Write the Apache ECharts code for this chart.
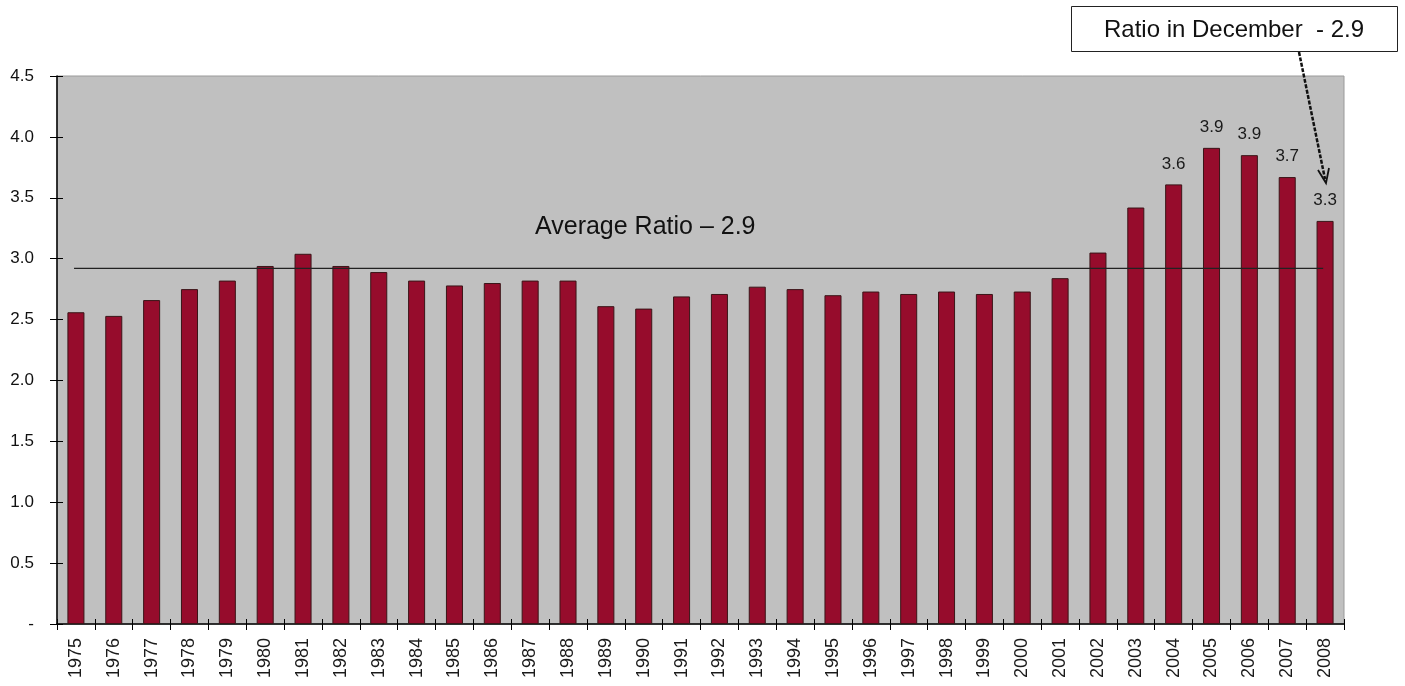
<!DOCTYPE html>
<html>
<head>
<meta charset="utf-8">
<script src="https://cdn.jsdelivr.net/npm/echarts@6/dist/echarts.min.js"></script>
<style>
html,body{margin:0;padding:0;background:#fff;}
#chart{width:1405px;height:686px;}
</style>
</head>
<body>
<div id="chart"></div>
<script>
const years = ['1975','1976','1977','1978','1979','1980','1981','1982','1983','1984','1985','1986','1987','1988','1989','1990','1991','1992','1993','1994','1995','1996','1997','1998','1999','2000','2001','2002','2003','2004','2005','2006','2007','2008'];
const ratios = [2.56,2.53,2.66,2.75,2.82,2.94,3.04,2.94,2.89,2.82,2.78,2.80,2.82,2.82,2.61,2.59,2.69,2.71,2.77,2.75,2.70,2.73,2.71,2.73,2.71,2.73,2.84,3.05,3.42,3.61,3.91,3.85,3.67,3.31];
const labelledYears = ['2004','2005','2006','2007','2008'];
const averageRatio = 2.92;
const averageSpan = [-0.05, 32.95];
const yTicks = ['-','0.5','1.0','1.5','2.0','2.5','3.0','3.5','4.0','4.5'];
const averageText = 'Average Ratio – 2.9';
const decemberText = 'Ratio in December  - 2.9';

const chart = echarts.init(document.getElementById('chart'));
const font = 'Liberation Sans, Arial, sans-serif';

chart.setOption({
  animation: false,
  grid: {left: 57, right: 61, top: 76, bottom: 62, show: true, backgroundColor: '#C0C0C0', borderColor: '#9a9a9a', borderWidth: 1},
  xAxis: [{
    type: 'category', data: years,
    axisLine: {lineStyle: {color: '#000', width: 1.5}},
    axisTick: {show: true, length: 6, lineStyle: {color: '#000'}},
    axisLabel: {rotate: 90, fontSize: 18, color: '#1a1a1a', fontFamily: font, margin: 14},
    splitLine: {show: false}
  }, {
    type: 'value', min: -0.5, max: 33.5, show: false
  }, {
    type: 'category', data: years, position: 'bottom',
    axisLine: {show: false},
    axisTick: {show: true, inside: true, length: 5, lineStyle: {color: '#000'}},
    axisLabel: {show: false}, splitLine: {show: false}
  }],
  yAxis: [{
    type: 'value', min: 0, max: 4.5, interval: 0.5,
    axisLine: {show: true, onZero: false, lineStyle: {color: '#000', width: 1.5}},
    axisTick: {show: true, length: 7, lineStyle: {color: '#000'}},
    splitLine: {show: false},
    axisLabel: {fontSize: 17, color: '#111', fontFamily: font, margin: 23,
      formatter: (v) => yTicks[Math.round(v / 0.5)]}
  }, {
    type: 'value', min: 0, max: 4.5, interval: 0.5, position: 'left',
    axisLine: {show: false, onZero: false},
    axisTick: {show: true, inside: true, length: 6, lineStyle: {color: '#000'}},
    axisLabel: {show: false}, splitLine: {show: false}
  }],
  series: [{
    type: 'bar', data: ratios, barWidth: '45%',
    itemStyle: {color: '#960C2C', borderColor: '#3a1518', borderWidth: 1},
    label: {
      show: true, position: 'top', distance: 12, fontSize: 17, color: '#1a1a1a', fontFamily: font,
      formatter: (p) => labelledYears.includes(p.name) ? p.value.toFixed(1) : ''
    }
  }, {
    type: 'line', xAxisIndex: 1, symbol: 'none',
    data: [[averageSpan[0], averageRatio], [averageSpan[1], averageRatio]],
    lineStyle: {color: '#222', width: 1.3}, z: 5
  }],
  graphic: [
    {type: 'text', left: 535, top: 215, style: {text: averageText, font: '25px ' + font, fill: '#111'}},
    {type: 'rect', shape: {x: 1071.5, y: 6.5, width: 326, height: 45}, style: {fill: '#fff', stroke: '#222', lineWidth: 1}},
    {type: 'text', x: 1234, y: 30, style: {text: decemberText, font: '24px ' + font, fill: '#111', align: 'center', verticalAlign: 'middle'}},
    {type: 'line', shape: {x1: 1299, y1: 52, x2: 1325, y2: 179}, style: {stroke: '#111', lineWidth: 2.5, lineDash: [4, 1.5]}},
    {type: 'polyline', shape: {points: [[1318, 170], [1326, 183], [1329, 168]]}, style: {stroke: '#111', lineWidth: 1.8, fill: null}}
  ]
});
</script>
</body>
</html>
